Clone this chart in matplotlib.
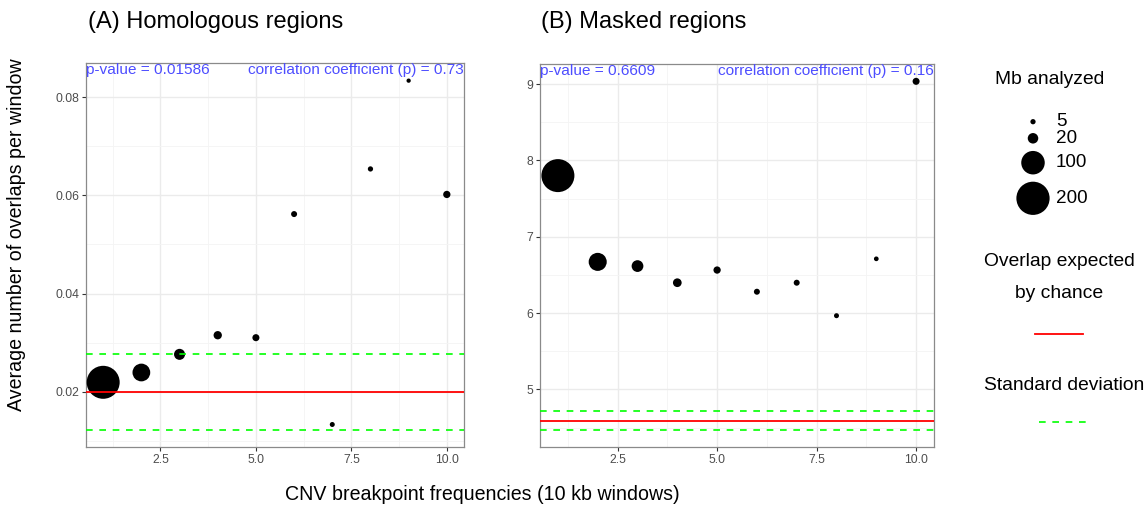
import numpy as np
import matplotlib
matplotlib.use("Agg")
import matplotlib.pyplot as plt
from matplotlib.lines import Line2D

plt.rcParams['font.family'] = ['Liberation Sans', 'DejaVu Sans']

# ---- data -------------------------------------------------------------
freq = [1, 2, 3, 4, 5, 6, 7, 8, 9, 10]

homologous_overlap = [0.0219, 0.0239, 0.0276, 0.0315, 0.0310,
                      0.0562, 0.0133, 0.0654, 0.0834, 0.0602]
homologous_mb = [197, 57, 22, 12.5, 9, 6.5, 4.5, 5, 3.3, 9.6]
homologous_expected = 0.0199
homologous_sd = 0.0077
homologous_pvalue = "0.01586"
homologous_rho = "0.73"

masked_overlap = [7.80, 6.67, 6.615, 6.397, 6.563,
                  6.279, 6.397, 5.965, 6.71, 9.035]
masked_mb = [197, 59, 25, 13.7, 9.6, 6.5, 6.5, 4.5, 4, 8.9]
masked_expected = 4.59
masked_sd = 0.122
masked_pvalue = "0.6609"
masked_rho = "0.16"

legend_mb = [5, 20, 100, 200]

# ---- figure -----------------------------------------------------------
W, H = 1148, 509
DPI = 100
fig = plt.figure(figsize=(W / DPI, H / DPI), dpi=DPI)

PX_PER_PT = DPI / 72.0


def marker_area(mb):
    """Scatter marker area (pt^2) with diameter proportional to sqrt(Mb)."""
    d_px = 2.35 * np.sqrt(np.asarray(mb, dtype=float))
    d_pt = d_px / PX_PER_PT
    return d_pt ** 2


def px_axes(left, top, right, bottom):
    return fig.add_axes([left / W, 1 - bottom / H, (right - left) / W, (bottom - top) / H])


annot_color = '#4d4dff'
tick_color = '#4d4d4d'


def draw_panel(ax, y, mb, expected, sd, ylim, yticks, yminor, pval, rho):
    ax.set_xlim(0.55, 10.45)
    ax.set_ylim(*ylim)
    ax.set_xticks([2.5, 5.0, 7.5, 10.0])
    ax.set_xticks([1.25, 3.75, 6.25, 8.75], minor=True)
    ax.set_yticks(yticks)
    ax.set_yticks(yminor, minor=True)
    ax.grid(which='major', color='#ebebeb', linewidth=1.0, zorder=0)
    ax.grid(which='minor', color='#f4f4f4', linewidth=0.6, zorder=0)
    ax.set_axisbelow(True)
    for sp in ax.spines.values():
        sp.set_color('#8a8a8a')
        sp.set_linewidth(0.9)
    ax.tick_params(which='major', length=3, width=0.8, color='#333333',
                   labelsize=8.8, labelcolor=tick_color, pad=2)
    ax.tick_params(which='minor', length=0)

    ax.scatter(freq, y, s=marker_area(mb), color='black', linewidths=0, zorder=3)
    ax.axhline(expected, color='#ff0000', linewidth=1.3, zorder=4)
    for v in (expected + sd, expected - sd):
        ax.axhline(v, color='#00ff00', linewidth=1.2, linestyle=(0, (4, 4)), zorder=4)

    ax.text(0.0, 1.0, "p-value = " + pval, transform=ax.transAxes, ha='left', va='top',
            color=annot_color, fontsize=11.1, zorder=5)
    ax.text(1.0, 1.0, "correlation coefficient (p) = " + rho, transform=ax.transAxes,
            ha='right', va='top', color=annot_color, fontsize=11.1, zorder=5)
    return ax


axA = px_axes(86, 63, 464, 447)
draw_panel(axA, homologous_overlap, homologous_mb, homologous_expected, homologous_sd,
           (0.00871, 0.0870), [0.02, 0.04, 0.06, 0.08], [0.01, 0.03, 0.05, 0.07],
           homologous_pvalue, homologous_rho)
axA.set_yticklabels(['0.02', '0.04', '0.06', '0.08'])

axB = px_axes(540, 64, 934, 447)
draw_panel(axB, masked_overlap, masked_mb, masked_expected, masked_sd,
           (4.245, 9.262), [5, 6, 7, 8, 9], [4.5, 5.5, 6.5, 7.5, 8.5],
           masked_pvalue, masked_rho)

for ax in (axA, axB):
    ax.set_xticklabels(['2.5', '5.0', '7.5', '10.0'])

# panel titles
fig.text(88 / W, 1 - 22 / H, "(A) Homologous regions", fontsize=17, ha='left', va='center')
fig.text(541 / W, 1 - 22 / H, "(B) Masked regions", fontsize=17, ha='left', va='center')

# shared axis labels
fig.text(17 / W, 1 - 235 / H, "Average number of overlaps per window", rotation=90,
         fontsize=14.1, ha='center', va='center')
fig.text(482 / W, 1 - 494 / H, "CNV breakpoint frequencies (10 kb windows)",
         fontsize=14.1, ha='center', va='center')

# ---- legend panel ----------------------------------------------------
leg = fig.add_axes([0, 0, 1, 1], facecolor='none')
leg.set_xlim(0, W)
leg.set_ylim(H, 0)
leg.set_axis_off()

leg.text(1050, 79, "Mb analyzed", fontsize=13.9, ha='center', va='center')
legend_y = [121.7, 138.3, 162.7, 198.3]
leg.scatter([1033] * len(legend_mb), legend_y, s=marker_area(legend_mb),
            color='black', linewidths=0)
for mbv, yy in zip(legend_mb, legend_y):
    leg.text(1056, yy, str(mbv), fontsize=13.6, ha='left', va='center')

leg.text(1059, 262, "Overlap expected", fontsize=13.9, ha='center', va='center')
leg.text(1059, 293, "by chance", fontsize=13.9, ha='center', va='center')
leg.add_line(Line2D([1035, 1083], [334.3, 334.3], color='#ff0000', linewidth=1.3))

leg.text(1064, 385, "Standard deviation", fontsize=13.9, ha='center', va='center')
leg.add_line(Line2D([1039, 1088], [422.3, 422.3], color='#00ff00', linewidth=1.2,
                    linestyle=(0, (4, 4))))

fig.savefig("out.png", dpi=DPI)
